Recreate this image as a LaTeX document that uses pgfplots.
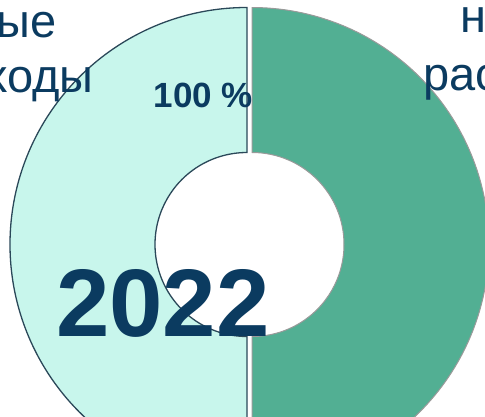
\documentclass[border=0pt]{standalone}
\usepackage{fontspec}
\setmainfont{Liberation Sans}
\usepackage{pgfplots}
\pgfplotsset{compat=1.18}
\usepackage{pgfplotstable}
\usetikzlibrary{calc}
\definecolor{mint}{HTML}{C8F6EC}
\definecolor{sliceB}{HTML}{52AF93}
\definecolor{navy}{HTML}{0B3B60}
\definecolor{edgeA}{HTML}{2B4859}
\definecolor{edgeB}{HTML}{9A9A9A}

\pgfplotstableread{
share
50
50
}\slices

\pgfplotstablegetelem{0}{share}\of\slices \let\shareA\pgfplotsretval
\pgfplotstablegetelem{1}{share}\of\slices \let\shareB\pgfplotsretval
\pgfmathsetmacro{\sA}{90}
\pgfmathsetmacro{\eA}{\sA+3.6*\shareA}
\pgfmathsetmacro{\sB}{\eA}
\pgfmathsetmacro{\eB}{\sB+3.6*\shareB}
\pgfmathsetmacro{\mA}{(\sA+\eA)/2}
\pgfmathsetmacro{\mB}{(\sB+\eB)/2}
\pgfmathsetmacro{\cxA}{249.5+2.5*cos(\mA)}
\pgfmathsetmacro{\cyA}{244.5-2.5*sin(\mA)}
\pgfmathsetmacro{\cxB}{249.5+2.5*cos(\mB)}
\pgfmathsetmacro{\cyB}{244.5-2.5*sin(\mB)}

\begin{document}
\begin{tikzpicture}
\useasboundingbox (0,0) rectangle (485bp,417bp);
\clip (0,0) rectangle (485bp,417bp);
\begin{axis}[at={(0,0)}, anchor=south west, scale only axis,
  width=485bp, height=417bp, xmin=0, xmax=485, ymin=0, ymax=417,
  y dir=reverse, axis lines=none, clip=false]
\filldraw[fill=mint, draw=edgeA, line width=1.3bp]
  ($(axis cs:\cxA,\cyA)+(\sA:237bp)$) arc[start angle=\sA, end angle=\eA, radius=237bp]
  -- ($(axis cs:\cxA,\cyA)+(\eA:92bp)$) arc[start angle=\eA, end angle=\sA, radius=92bp] -- cycle;
\filldraw[fill=sliceB, draw=edgeB, line width=1bp]
  ($(axis cs:\cxB,\cyB)+(\sB:237bp)$) arc[start angle=\sB, end angle=\eB, radius=237bp]
  -- ($(axis cs:\cxB,\cyB)+(\eB:92bp)$) arc[start angle=\eB, end angle=\sB, radius=92bp] -- cycle;
\node[anchor=base east, inner sep=0, text=navy, font=\fontsize{47bp}{56bp}\selectfont] at (axis cs:57,37) {Постоянные};
\node[anchor=base east, inner sep=0, text=navy, font=\fontsize{47bp}{56bp}\selectfont] at (axis cs:94,92) {расходы};
\node[anchor=base west, inner sep=0, text=navy, font=\fontsize{47bp}{56bp}\selectfont] at (axis cs:460,32) {н};
\node[anchor=base west, inner sep=0, text=navy, font=\fontsize{47bp}{56bp}\selectfont] at (axis cs:423,90) {расходы};
\node[anchor=base, inner sep=0, text=navy, font=\bfseries\fontsize{35bp}{40bp}\selectfont] at (axis cs:203.5,107) {100 \%};
\node[anchor=base, inner sep=0, text=navy, font=\bfseries\fontsize{96bp}{100bp}\selectfont] at (axis cs:163,336) {2022};
\end{axis}
\end{tikzpicture}
\end{document}
